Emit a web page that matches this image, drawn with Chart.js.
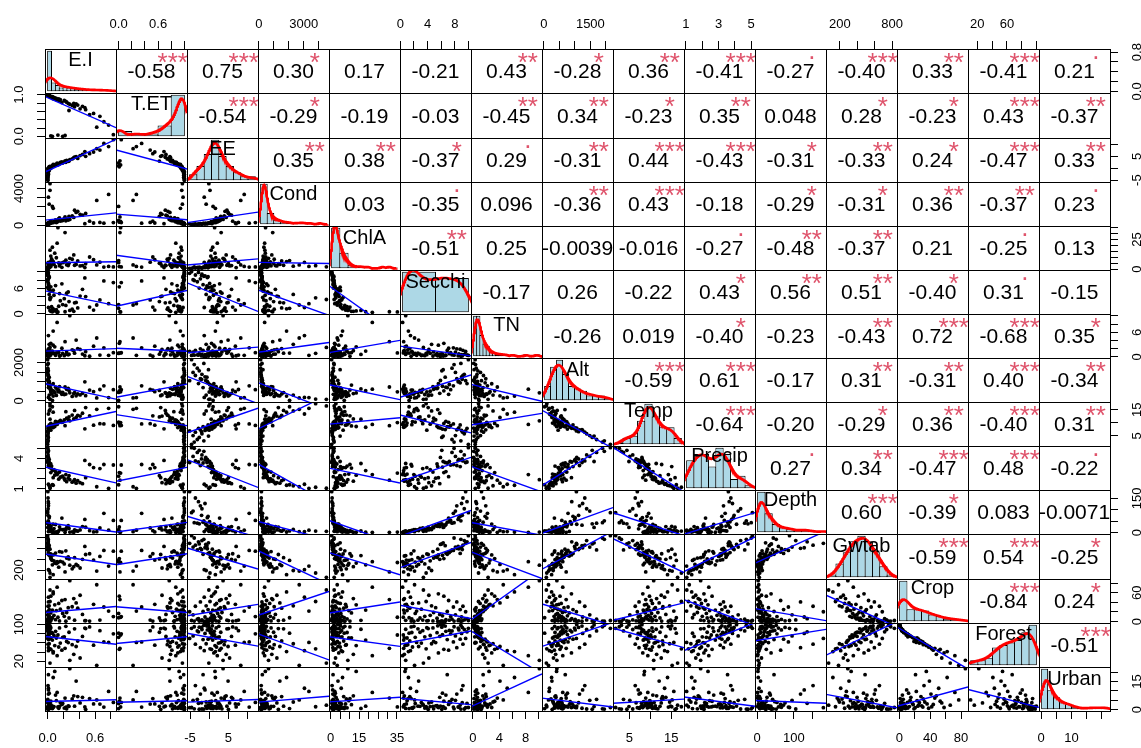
<!DOCTYPE html>
<html>
<head>
<meta charset="utf-8">
<script src="https://cdn.jsdelivr.net/npm/chart.js@4.4.1/dist/chart.umd.min.js"></script>
<style>
  html, body { margin: 0; padding: 0; background: #fff; }
  #wrap { position: relative; width: 1141px; height: 748px; overflow: hidden; background: #fff; }
  #wrap canvas { position: absolute; }
</style>
</head>
<body>
<div id="wrap"></div>
<script>
// ---- data: one value per site, 70 sites ----
var varNames = ['E.I', 'T.ET', 'EE', 'Cond', 'ChlA', 'Secchi', 'TN', 'Alt', 'Temp', 'Precip', 'Depth', 'Gwtab', 'Crop', 'Forest', 'Urban'];

var EI = [0.62, 0.28, 0.03, 0.12, 0.41, 0.07, 0.07, 0.33, 0.04, 0.01,
  0.18, 0.22, 0.36, 0.03, 0.58, 0.01, 0.14, 0.02, 0.09, 0.26,
  0.31, 0.71, 0.16, 0.005, 0.38, 0.06, 0.77, 0.02, 0.24, 0.11,
  0.01, 0.19, 0.003, 0.44, 0.04, 0.08, 0, 0.21, 0.83, 0.02,
  0.13, 0.01, 0.04, 0.06, 0.008, 0.27, 0.002, 0.05, 0.1, 0.02,
  0.66, 0.006, 0.34, 0.01, 0, 0.03, 0.47, 0.48, 0.004, 0.04,
  0.009, 0.15, 0.001, 0.53, 0.02, 0.23, 0.007, 0.03, 0.01, 0.002];
var TET = [0.22, 0.77, 0.97, 0.87, 0.66, 0.94, 0.90, 0.79, 0.01, 0.98,
  0.81, 0.02, 0.78, 0.96, 0.55, 0.99, 0.90, 0.97, 0.92, 0.79,
  0.74, 0.35, 0.88, 1.00, 0.75, 0.95, 0.27, 0.98, 0.82, 0.91,
  0.99, 0.00, 1.00, 0.72, 0.95, 0.93, 1.00, 0.86, 0.04, 0.96,
  0.03, 0.99, 0.94, 0.00, 1.00, 0.62, 0.99, 0.93, 0.89, 0.98,
  0.48, 1.00, 0.71, 0.97, 1.00, 0.96, 0.69, 0.64, 0.99, 0.95,
  1.00, 0.85, 0.99, 0.52, 0.97, 0.84, 1.00, 0.96, 0.98, 0.99];
var EE = [8.2, 3.6, -0.1, 2.1, 5.3, 1.6, 1.2, 4.4, 0.6, -1.3,
  2.7, 3.1, 4.9, 0.2, 6.8, -2.3, 1.9, -0.8, 1.5, 2.9,
  3.9, 10.4, 2.4, -3.6, 4.1, 0.9, 9.1, -0.3, 3.3, 1.7,
  -1.6, 2.2, -5.1, 5.8, 0.4, 1.1, -4.2, 2.6, 12.0, 0.7,
  1.4, -1.1, 0.3, 1.0, -2.8, 3.0, -3.1, 0.8, 1.3, -0.5,
  7.6, -1.9, 4.6, 0.1, -4.6, 0.5, 7.0, 5.0, -2.0, 0.0,
  -2.6, 1.8, -3.9, 6.1, -0.6, 2.5, -1.4, 0.8, -0.9, -0.2];
var Cond = [2700, 640, 4520, 380, 1200, 1850, 290, 860, 350, 3050,
  510, 920, 1400, 3800, 260, 198, 720, 2300, 425, 570,
  1020, 240, 470, 150, 1520, 330, 3350, 210, 680, 310,
  225, 540, 162, 1100, 280, 410, 126, 760, 300, 186,
  440, 144, 270, 2050, 174, 980, 115, 365, 600, 192,
  320, 132, 1650, 218, 110, 395, 180, 1300, 156, 250,
  138, 810, 120, 455, 168, 490, 204, 340, 232, 265];
var ChlA = [3.5, 9.1, 1.9, 22, 2.6, 6.3, 4.3, 12, 2.1, 5.6,
  1.45, 31, 3.9, 2.8, 7.9, 1.2, 5.1, 2.4, 13.5, 3.0,
  8.3, 1.65, 4.7, 0.8, 6.9, 18.5, 2.2, 1.05, 3.6, 9.6,
  1.3, 5.4, 0.6, 2.9, 11, 4.1, 0.9, 6.0, 1.8, 2.5,
  35.2, 1.1, 3.3, 7.2, 0.7, 4.9, 1.4, 8.7, 2.0, 1.6,
  5.8, 0.85, 3.2, 1.95, 0.55, 16, 1.25, 4.5, 1.0, 6.6,
  1.5, 2.7, 1.85, 10.2, 2.3, 7.5, 1.7, 5.25, 3.8, 5.02];
var Secchi = [2.1, 0.8, 3.4, 0.35, 4.2, 1.2, 5.6, 0.6, 6.4, 1.5,
  7.1, 0.5, 2.7, 3.8, 0.9, 8.3, 1.8, 4.6, 0.7, 5.2,
  1.1, 7.8, 3.1, 9.2, 1.4, 0.5, 2.4, 8.8, 4.9, 1.0,
  6.9, 2.2, 9.6, 5.8, 0.6, 4.4, 8.1, 3.6, 7.4, 6.2,
  0.45, 9.0, 5.4, 1.3, 9.8, 2.9, 7.6, 1.7, 6.7, 8.6,
  3.3, 9.4, 2.6, 7.2, 10.0, 0.8, 8.5, 4.1, 9.1, 3.9,
  6.1, 4.8, 7.9, 1.6, 6.6, 2.0, 8.9, 5.5, 5.9, 6.3];
var TN = [4.6, 10.07, 2.3, 8.4, 1.8, 6.3, 2.85, 1.5, 3.3, 5.2,
  2.1, 3.7, 4.1, 0.85, 2.6, 1.95, 1.1, 3.05, 2.45, 0.48,
  1.7, 2.2, 0.3, 1.6, 2.02, 1.4, 0.36, 1.85, 1.2, 0.98,
  1.55, 0.82, 1.3, 0.68, 1.05, 0.87, 1.15, 0.28, 1.02, 0.72,
  0.95, 0.55, 0.8, 0.92, 0.45, 0.65, 0.5, 1.35, 0.38, 0.7,
  0.42, 0.62, 0.9, 0.78, 0.34, 0.58, 0.26, 1.25, 0.22, 0.52,
  0.75, 0.2, 0.4, 0.16, 0.32, 0.6, 0.13, 0.24, 0.11, 0.18];
var Alt = [150, 420, 80, 610, 310, 250, 890, 380, 520, 180,
  340, 720, 260, 95, 480, 1150, 560, 300, 410, 650,
  230, 780, 450, 1320, 360, 530, 170, 940, 600, 280,
  690, 440, 1050, 390, 820, 500, 1480, 330, 580, 760,
  470, 1250, 640, 25, 900, 540, 1700, 360, 710, 1010,
  590, 1380, 430, 850, 2145, 620, 990, 270, 1120, 460,
  1560, 740, 1890, 560, 1230, 350, 1950, 680, 1060, 1620];
var Temp = [15.2, 10.8, 16.5, 9.4, 12.6, 14.1, 8.2, 11.5, 9.8, 13.4,
  10.2, 8.9, 12.1, 17.4, 9.1, 7.3, 10.5, 14.6, 8.6, 11.2,
  13.0, 9.6, 10.9, 6.4, 12.9, 8.3, 15.6, 9.2, 11.8, 9.9,
  8.5, 10.3, 6.9, 13.7, 8.8, 9.5, 5.1, 11.1, 9.0, 7.6,
  10.1, 7.1, 8.7, 16.2, 7.9, 12.3, 3.6, 9.3, 10.6, 8.1,
  9.7, 5.8, 14.8, 8.4, 1.72, 11.4, 7.7, 15.9, 6.6, 7.2,
  4.4, 10.4, 2.6, 12.7, 7.4, 14.3, 3.1, 15.1, 8.0, 4.9];
var Precip = [1.2, 1.9, 1.05, 2.4, 1.6, 1.35, 2.1, 1.75, 2.6, 1.45,
  2.2, 1.85, 1.55, 1.15, 3.1, 3.3, 1.95, 1.3, 2.35, 2.05,
  1.65, 3.4, 2.15, 3.75, 1.8, 2.8, 1.04, 3.2, 1.7, 2.45,
  3.55, 2.25, 3.6, 1.5, 3.05, 2.9, 4.2, 2.0, 3.35, 3.15,
  2.55, 3.85, 3.45, 1.4, 3.65, 2.3, 4.6, 3.25, 2.7, 3.9,
  3.0, 4.35, 1.9, 3.7, 5.07, 3.5, 3.8, 2.1, 3.95, 3.1,
  4.8, 2.65, 5.0, 3.4, 3.6, 2.4, 4.7, 3.2, 4.1, 3.7];
var Depth = [4.5, 2.8, 6.0, 1.5, 12, 3.2, 38, 2.1, 25, 5.2,
  64, 1.8, 9.5, 7.2, 3.6, 118, 8.4, 14, 2.4, 31,
  4.0, 85, 16, 152, 6.6, 2.0, 11, 72, 22, 3.9,
  46, 13, 180, 27, 5.8, 18, 95, 15, 54, 34,
  2.6, 128, 29, 8.0, 136, 19, 42, 10, 36, 66,
  21, 105, 12.5, 48, 88, 7.5, 58, 24, 76, 17,
  39, 26, 44, 9, 33, 13.5, 52, 28, 37, 23];
var Gwtab = [185, 292, 71, 355, 240, 120, 478, 265, 412, 210,
  530, 170, 305, 150, 385, 597, 255, 195, 330, 442,
  225, 560, 362, 655, 285, 298, 275, 505, 420, 322,
  490, 348, 688, 398, 458, 370, 620, 315, 545, 472,
  340, 608, 435, 378, 715, 405, 568, 392, 512, 590,
  450, 738, 428, 520, 827, 465, 632, 485, 575, 495,
  678, 538, 785, 499, 645, 552, 760, 582, 668, 697];
var Crop = [77, 85.6, 66, 72, 55, 62, 58, 48, 53, 51,
  44, 46, 39, 42, 36, 41, 38, 33, 35, 29,
  31, 30.5, 26, 32, 28, 24, 22, 25, 19, 23,
  21, 17, 20.5, 15, 18, 13, 14, 11, 10.5, 12,
  9, 9.5, 7, 8, 6, 7.5, 5, 5.5, 4, 4.5,
  3.2, 3.5, 2.8, 3, 2.2, 2.5, 1.8, 2, 1.5, 1.6,
  1.2, 1.3, 1, 1.1, 0.8, 0.9, 0.6, 0.7, 0.4, 0.5];
var Forest = [11, 22, 16, 32, 27, 41, 38, 35, 46, 43,
  44, 48, 52, 47, 55, 49.5, 51, 58, 54, 60.5,
  56, 62, 59.5, 57, 64, 66, 61, 68, 63, 70.5,
  67, 72, 69.5, 74, 71, 76, 75, 73, 79.5, 78,
  77, 80.5, 82, 81, 84, 83, 86, 82.5, 85, 88,
  86.5, 89, 90.5, 87, 91.5, 89.5, 92, 91, 93.5, 93,
  94, 92.5, 95, 94.5, 96.5, 96, 98, 97, 99.6, 99];
var Urban = [5.2, 21.8, 2.4, 9.2, 3.6, 17.1, 1.2, 7.4, 4.5, 11.4,
  2.8, 6.2, 15.2, 1.6, 3.1, 8.3, 0.8, 4.1, 20.3, 2.1,
  5.7, 1.4, 3.8, 12.8, 7.0, 1.9, 9.7, 2.5, 0.5, 4.8,
  18.6, 3.3, 1.1, 6.6, 2.7, 1.7, 5.0, 0.9, 3.9, 8.8,
  1.5, 10.5, 2.2, 0.6, 3.4, 1.8, 5.5, 1.0, 7.8, 1.3,
  3.0, 0.4, 1.9, 4.3, 1.2, 0.7, 1.5, 0.2, 3.7, 1.0,
  0.3, 1.8, 0.5, 5.9, 0.8, 1.4, 0.35, 1.6, 1.95, 1.7];

// axis ticks and the labels R actually printed
var tickValues = [
  [0, 0.2, 0.4, 0.6, 0.8], [0, 0.2, 0.4, 0.6, 0.8, 1.0], [-5, 0, 5, 10], [0, 1000, 2000, 3000, 4000],
  [0, 5, 10, 15, 20, 25, 30, 35], [0, 2, 4, 6, 8, 10], [0, 2, 4, 6, 8, 10], [0, 500, 1000, 1500, 2000],
  [5, 10, 15], [1, 2, 3, 4, 5], [0, 50, 100, 150], [200, 400, 600, 800],
  [0, 20, 40, 60, 80], [20, 40, 60, 80, 100], [0, 5, 10, 15, 20]
];
var xTickLabels = [
  ['0.0', '', '', '0.6', ''], ['0.0', '', '', '0.6', '', ''], ['-5', '', '5', ''], ['0', '', '', '3000', ''],
  ['0', '', '', '15', '', '', '', '35'], ['0', '', '4', '', '8', ''], ['0', '', '4', '', '8', ''], ['0', '', '', '1500', ''],
  ['5', '', '15'], ['1', '', '3', '', '5'], ['0', '', '100', ''], ['200', '', '', '800'],
  ['0', '', '40', '', '80'], ['20', '', '60', '', ''], ['0', '', '10', '', '']
];
var yTickLabels = [
  ['0.0', '', '', '', '0.8'], ['0.0', '', '', '', '', '1.0'], ['-5', '', '5', ''], ['0', '', '', '', '4000'],
  ['0', '', '', '', '', '25', '', ''], ['0', '', '', '6', '', ''], ['0', '', '', '6', '', ''], ['0', '', '', '', '2000'],
  ['5', '', '15'], ['1', '', '', '4', ''], ['0', '', '', '150'], ['200', '', '', ''],
  ['0', '', '', '60', ''], ['20', '', '', '', '100'], ['0', '', '', '15', '']
];

// histogram breaks of the diagonal panels
var histBreaks = [
  [0, 0.05, 0.1, 0.15, 0.2, 0.25, 0.3, 0.35, 0.4, 0.45, 0.5, 0.55, 0.6, 0.65, 0.7, 0.75, 0.8, 0.85],
  [0, 0.2, 0.4, 0.6, 0.8, 1.0],
  [-6, -4, -2, 0, 2, 4, 6, 8, 10, 12],
  [0, 500, 1000, 1500, 2000, 2500, 3000, 3500, 4000, 4500, 5000],
  [0, 5, 10, 15, 20, 25, 30, 35, 40],
  [0, 5, 10],
  [0, 0.5, 1, 1.5, 2, 2.5, 3, 3.5, 4, 4.5, 5, 5.5, 6, 6.5, 7, 7.5, 8, 8.5, 9, 9.5, 10, 10.5],
  [0, 200, 400, 600, 800, 1000, 1200, 1400, 1600, 1800, 2000, 2200],
  [0, 2, 4, 6, 8, 10, 12, 14, 16, 18],
  [1, 1.5, 2, 2.5, 3, 3.5, 4, 4.5, 5, 5.5],
  [0, 20, 40, 60, 80, 100, 120, 140, 160, 180],
  [0, 100, 200, 300, 400, 500, 600, 700, 800, 900],
  [0, 10, 20, 30, 40, 50, 60, 70, 80, 90],
  [10, 20, 30, 40, 50, 60, 70, 80, 90, 100],
  [0, 2, 4, 6, 8, 10, 12, 14, 16, 18, 20, 22]
];

// upper panels: printed correlations and significance marks, row by row
var corText = [
  ['-0.58', '0.75', '0.30', '0.17', '-0.21', '0.43', '-0.28', '0.36', '-0.41', '-0.27', '-0.40', '0.33', '-0.41', '0.21'],
  ['-0.54', '-0.29', '-0.19', '-0.03', '-0.45', '0.34', '-0.23', '0.35', '0.048', '0.28', '-0.23', '0.43', '-0.37'],
  ['0.35', '0.38', '-0.37', '0.29', '-0.31', '0.44', '-0.43', '-0.31', '-0.33', '0.24', '-0.47', '0.33'],
  ['0.03', '-0.35', '0.096', '-0.36', '0.43', '-0.18', '-0.29', '-0.31', '0.36', '-0.37', '0.23'],
  ['-0.51', '0.25', '-0.0039', '-0.016', '-0.27', '-0.48', '-0.37', '0.21', '-0.25', '0.13'],
  ['-0.17', '0.26', '-0.22', '0.43', '0.56', '0.51', '-0.40', '0.31', '-0.15'],
  ['-0.26', '0.019', '-0.40', '-0.23', '-0.43', '0.72', '-0.68', '0.35'],
  ['-0.59', '0.61', '-0.17', '0.31', '-0.31', '0.40', '-0.34'],
  ['-0.64', '-0.20', '-0.29', '0.36', '-0.40', '0.31'],
  ['0.27', '0.34', '-0.47', '0.48', '-0.22'],
  ['0.60', '-0.39', '0.083', '-0.0071'],
  ['-0.59', '0.54', '-0.25'],
  ['-0.84', '0.24'],
  ['-0.51']
];
var corStars = [
  ['***', '***', '*', '', '', '**', '*', '**', '***', '.', '***', '**', '***', '.'],
  ['***', '*', '', '', '**', '**', '*', '**', '', '*', '*', '***', '**'],
  ['**', '**', '*', '.', '**', '***', '***', '*', '**', '*', '***', '**'],
  ['', '.', '', '**', '***', '', '*', '*', '**', '**', '.'],
  ['**', '', '', '', '.', '**', '**', '', '.', ''],
  ['', '', '', '*', '**', '**', '*', '.', ''],
  ['', '', '*', '', '**', '***', '***', '*'],
  ['***', '***', '', '**', '**', '***', '**'],
  ['***', '', '*', '**', '***', '**'],
  ['.', '**', '***', '***', '.'],
  ['***', '*', '', ''],
  ['***', '***', '*'],
  ['***', '*'],
  ['***']
];

var vars = [EI, TET, EE, Cond, ChlA, Secchi, TN, Alt, Temp, Precip, Depth, Gwtab, Crop, Forest, Urban];

// ---- layout ----
var FONT = '"Liberation Sans", Arial, Helvetica, sans-serif';
var GRID_LEFT = 45, GRID_TOP = 49.3, CELL_W = 71, CELL_H = 44.1, N = 15;
var PAGE_W = 1141, PAGE_H = 748;
var AXIS_FS = 13;
var wrap = document.getElementById('wrap');

Chart.defaults.animation = false;
Chart.defaults.responsive = false;
Chart.defaults.events = [];
Chart.defaults.font.family = FONT;
Chart.defaults.plugins.legend.display = false;
Chart.defaults.plugins.tooltip.enabled = false;

function rowTop(r) { return Math.round(GRID_TOP + CELL_H * r); }
function colLeft(c) { return GRID_LEFT + CELL_W * c; }

function makeCanvas(left, top, w, h) {
  var cv = document.createElement('canvas');
  cv.width = w; cv.height = h;
  cv.style.left = left + 'px'; cv.style.top = top + 'px';
  cv.style.width = w + 'px'; cv.style.height = h + 'px';
  wrap.appendChild(cv);
  return cv;
}

// ---- small stats helpers ----
function mean(a) { var s = 0; a.forEach(function (v) { s += v; }); return s / a.length; }
function sd(a) { var m = mean(a), s = 0; a.forEach(function (v) { s += (v - m) * (v - m); }); return Math.sqrt(s / (a.length - 1)); }
function quantile(a, p) {
  var s = a.slice().sort(function (x, y) { return x - y; });
  var h = (s.length - 1) * p, lo = Math.floor(h), hi = Math.min(lo + 1, s.length - 1);
  return s[lo] + (h - lo) * (s[hi] - s[lo]);
}
function bwNrd0(a) {
  var lo = Math.min(sd(a), (quantile(a, 0.75) - quantile(a, 0.25)) / 1.34);
  if (!(lo > 0)) lo = sd(a);
  return 0.9 * lo * Math.pow(a.length, -0.2);
}
function usr(a) {
  var lo = Math.min.apply(null, a), hi = Math.max.apply(null, a), d = (hi - lo) * 0.04;
  return [lo - d, hi + d];
}
function histCounts(a, br) {
  var c = br.slice(1).map(function () { return 0; });
  a.forEach(function (v) {
    for (var i = 0; i < c.length; i++) { if (v <= br[i + 1] || i === c.length - 1) { c[i]++; break; } }
  });
  return c;
}
function linFit(x, y) {
  var mx = mean(x), my = mean(y), sxy = 0, sxx = 0;
  x.forEach(function (v, i) { sxy += (v - mx) * (y[i] - my); sxx += (v - mx) * (v - mx); });
  var b = sxy / sxx;
  return { a: my - b * mx, b: b };
}

var ranges = vars.map(usr);

// border + texts of one panel (text ink centred vertically, like R)
function panelPlugin(items) {
  return {
    id: 'panel',
    afterDraw: function (chart) {
      var a = chart.chartArea, ctx = chart.ctx, w = a.right - a.left, h = a.bottom - a.top;
      ctx.save();
      items.forEach(function (it) {
        ctx.font = it.size + 'px ' + FONT;
        ctx.fillStyle = it.color;
        ctx.textAlign = 'center';
        ctx.textBaseline = 'alphabetic';
        var m = ctx.measureText(it.text);
        var yc = a.top + (1 - it.y) * h;
        ctx.fillText(it.text, a.left + it.x * w, yc + (m.actualBoundingBoxAscent - m.actualBoundingBoxDescent) / 2);
      });
      ctx.strokeStyle = '#000';
      ctx.lineWidth = 1;
      ctx.strokeRect(a.left + 0.5, a.top + 0.5, w, h);
      ctx.restore();
    }
  };
}

function hiddenScale(min, max) {
  return { type: 'linear', display: false, min: min, max: max, offset: false };
}

function cellCanvas(r, c) {
  var top = rowTop(r), h = rowTop(r + 1) - top;
  return makeCanvas(colLeft(c), top, CELL_W + 1, h + 1);
}
var cellLayout = { autoPadding: false, padding: { left: 0, top: 0, right: 1, bottom: 1 } };

// lower panels: points + least squares line
function scatterCell(r, c) {
  var xs = vars[c], ys = vars[r], xr = ranges[c], yr = ranges[r];
  var pts = xs.map(function (v, i) { return { x: v, y: ys[i] }; });
  var f = linFit(xs, ys);
  var fit = [{ x: xr[0], y: f.a + f.b * xr[0] }, { x: xr[1], y: f.a + f.b * xr[1] }];
  new Chart(cellCanvas(r, c), {
    type: 'scatter',
    data: {
      datasets: [
        { data: fit, showLine: true, borderColor: '#0000FF', borderWidth: 1.4, pointRadius: 0, tension: 0 },
        { data: pts, backgroundColor: '#000', borderWidth: 0, pointRadius: 1.9 }
      ]
    },
    options: { layout: cellLayout, scales: { x: hiddenScale(xr[0], xr[1]), y: hiddenScale(yr[0], yr[1]) } },
    plugins: [panelPlugin([])]
  });
}

// diagonal panels: histogram + kernel density + variable name
function diagCell(k) {
  var a = vars[k], br = histBreaks[k], counts = histCounts(a, br);
  var binW = br[1] - br[0];
  var d = (br[br.length - 1] - br[0]) * 0.04;
  var xmin = br[0] - d, xmax = br[br.length - 1] + d;
  var cmax = Math.max.apply(null, counts);
  var bars = counts.map(function (n, i) { return { x: (br[i] + br[i + 1]) / 2, y: n }; });
  var bw = bwNrd0(a), lo = Math.min.apply(null, a) - 3 * bw, hi = Math.max.apply(null, a) + 3 * bw;
  var dens = [];
  for (var i = 0; i < 300; i++) {
    var x = lo + (hi - lo) * i / 299, s = 0;
    a.forEach(function (v) { var z = (x - v) / bw; s += Math.exp(-0.5 * z * z); });
    dens.push({ x: x, y: s / Math.sqrt(2 * Math.PI) / bw * binW });
  }
  var gapPx = binW * CELL_W / (xmax - xmin);
  new Chart(cellCanvas(k, k), {
    type: 'bar',
    data: {
      datasets: [
        { type: 'line', data: dens, borderColor: '#FF0000', borderWidth: 2.6, pointRadius: 0, tension: 0, fill: false },
        { type: 'bar', data: bars, backgroundColor: '#ADD8E6', borderColor: '#000', borderWidth: 1,
          borderSkipped: false, barPercentage: (gapPx + 1) / gapPx, categoryPercentage: 1 }
      ]
    },
    options: {
      layout: cellLayout,
      scales: { x: hiddenScale(xmin, xmax), y: hiddenScale(-0.04 * cmax, 1.04 * cmax) }
    },
    plugins: [panelPlugin([{ text: varNames[k], x: 0.5, y: 0.77, size: 20, color: '#000' }])]
  });
}

// upper panels: correlation text + stars
function corCell(r, c) {
  var txt = corText[r][c - r - 1], st = corStars[r][c - r - 1];
  var items = [{ text: txt, x: 0.5, y: 0.5, size: 21, color: '#000' }];
  if (st) items.push({ text: st, x: 0.8, y: 0.8, size: 26, color: '#DF536B' });
  new Chart(cellCanvas(r, c), {
    type: 'scatter',
    data: { datasets: [] },
    options: { layout: cellLayout, scales: { x: hiddenScale(0, 1), y: hiddenScale(0, 1) } },
    plugins: [panelPlugin(items)]
  });
}

function ticksFor(k) {
  var rg = ranges[k];
  return function (scale) {
    scale.ticks = tickValues[k].filter(function (t) { return t >= rg[0] && t <= rg[1]; })
      .map(function (t) { return { value: t }; });
  };
}

// outer x axes (odd columns at the bottom, even columns on top)
function xAxis(k, side) {
  var pad = 30, top, h, axisH;
  if (side === 'top') { top = 0; axisH = rowTop(0); h = axisH + 10; }
  else { top = rowTop(N) - 10; h = PAGE_H - top; axisH = h - 10; }
  var cv = makeCanvas(colLeft(k) - pad, top, CELL_W + 2 * pad, h);
  new Chart(cv, {
    type: 'scatter',
    data: { datasets: [] },
    options: {
      layout: { autoPadding: false, padding: { left: pad, right: pad, top: 0, bottom: 0 } },
      scales: {
        y: { display: false },
        x: {
          type: 'linear', position: side, min: ranges[k][0], max: ranges[k][1], offset: false,
          afterFit: function (s) { s.height = axisH; },
          afterBuildTicks: ticksFor(k),
          ticks: {
            autoSkip: false, maxRotation: 0, minRotation: 0, color: '#000',
            padding: side === 'top' ? 9 : 12, font: { size: AXIS_FS, family: FONT },
            callback: function (v) {
              var i = tickValues[k].indexOf(v);
              return i < 0 ? '' : xTickLabels[k][i];
            }
          },
          grid: { drawOnChartArea: false, drawTicks: true, tickLength: 8, tickColor: '#000', tickWidth: 1 },
          border: { display: true, color: '#000', width: 1 }
        }
      }
    }
  });
}

function yLabelPlugin(k, labelX) {
  return {
    id: 'ylab',
    afterDraw: function (chart) {
      var s = chart.scales.y, ctx = chart.ctx;
      ctx.save();
      ctx.font = AXIS_FS + 'px ' + FONT;
      ctx.fillStyle = '#000';
      ctx.textAlign = 'center';
      ctx.textBaseline = 'alphabetic';
      tickValues[k].forEach(function (t, i) {
        var lab = yTickLabels[k][i];
        if (!lab) return;
        var m = ctx.measureText(lab);
        ctx.save();
        ctx.translate(labelX, s.getPixelForValue(t));
        ctx.rotate(-Math.PI / 2);
        ctx.fillText(lab, 0, (m.actualBoundingBoxAscent - m.actualBoundingBoxDescent) / 2);
        ctx.restore();
      });
      ctx.restore();
    }
  };
}

// outer y axes (odd rows on the right, even rows on the left)
function yAxis(k, side) {
  var pad = 30, top = rowTop(k), h = rowTop(k + 1) - top;
  var left, w, axisW, labelX;
  if (side === 'left') { left = 0; w = GRID_LEFT + 10; axisW = GRID_LEFT; labelX = 18.5; }
  else { left = GRID_LEFT + N * CELL_W - 10; w = PAGE_W - left; axisW = w - 10; labelX = 1136.5 - left; }
  var cv = makeCanvas(left, top - pad, w, h + 2 * pad);
  new Chart(cv, {
    type: 'scatter',
    data: { datasets: [] },
    options: {
      layout: { autoPadding: false, padding: { left: 0, right: 0, top: pad, bottom: pad } },
      scales: {
        x: { display: false },
        y: {
          type: 'linear', position: side, min: ranges[k][0], max: ranges[k][1],
          afterFit: function (s) { s.width = axisW; },
          afterBuildTicks: ticksFor(k),
          ticks: { display: false, autoSkip: false },
          grid: { drawOnChartArea: false, drawTicks: true, tickLength: 8, tickColor: '#000', tickWidth: 1 },
          border: { display: true, color: '#000', width: 1 }
        }
      }
    },
    plugins: [yLabelPlugin(k, labelX)]
  });
}

for (var r = 0; r < N; r++) {
  for (var c = 0; c < N; c++) {
    if (r === c) diagCell(r);
    else if (r > c) scatterCell(r, c);
    else corCell(r, c);
  }
}
for (var k = 0; k < N; k++) {
  xAxis(k, k % 2 === 0 ? 'bottom' : 'top');
  yAxis(k, k % 2 === 0 ? 'right' : 'left');
}
</script>
</body>
</html>
